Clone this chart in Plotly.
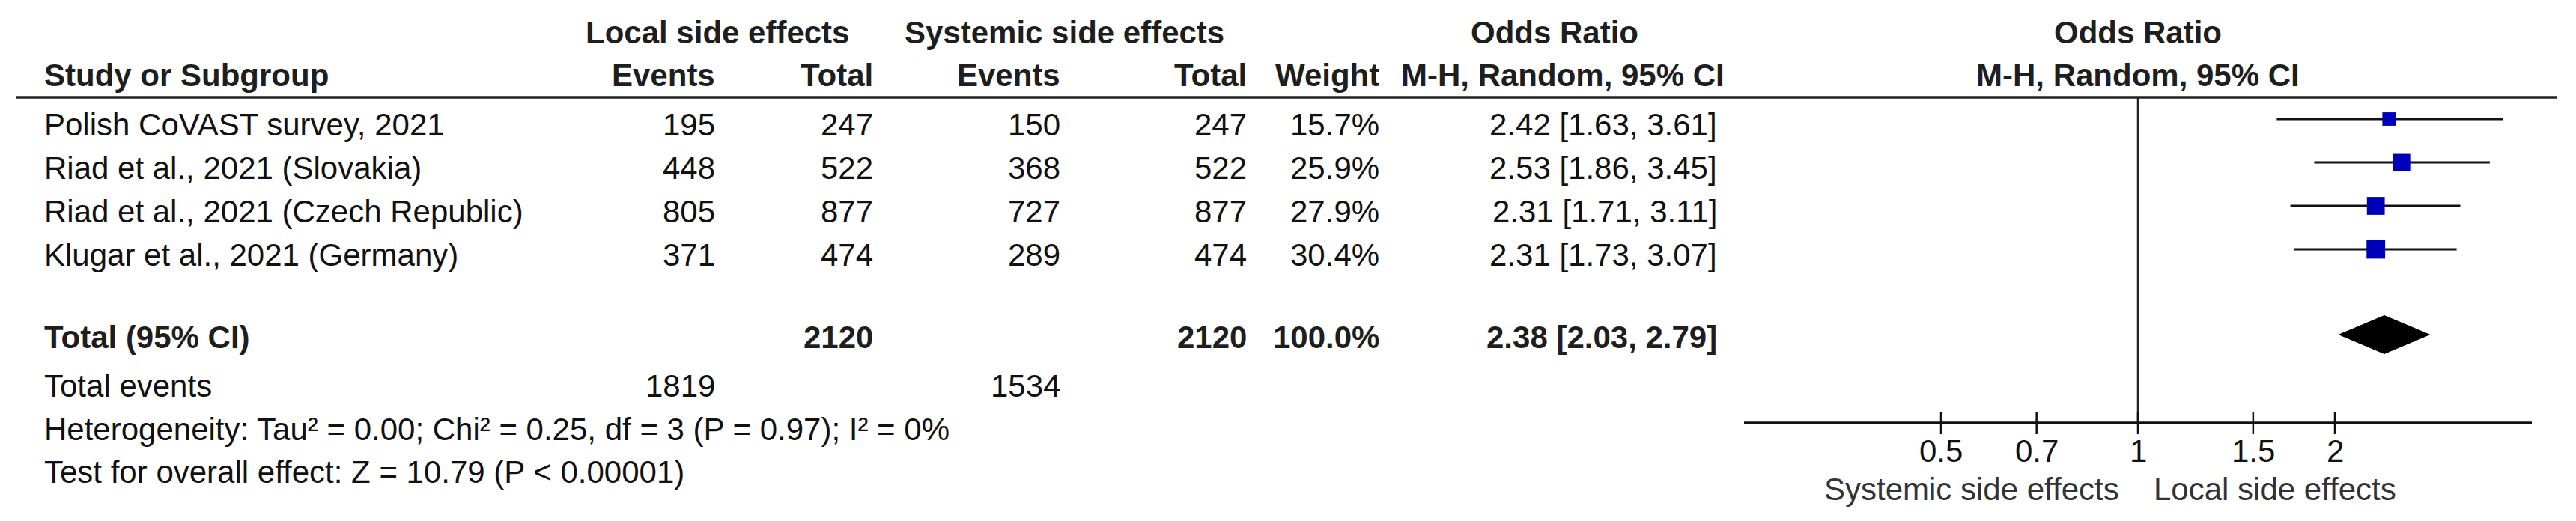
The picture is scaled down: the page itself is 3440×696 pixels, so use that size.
import math
import plotly.graph_objects as go

# ---------------- data ----------------
studies = [
    "Polish CoVAST survey, 2021",
    "Riad et al., 2021 (Slovakia)",
    "Riad et al., 2021 (Czech Republic)",
    "Klugar et al., 2021 (Germany)",
]
local_events = [195, 448, 805, 371]
local_total = [247, 522, 877, 474]
sys_events = [150, 368, 727, 289]
sys_total = [247, 522, 877, 474]
weights = [15.7, 25.9, 27.9, 30.4]
or_est = [2.42, 2.53, 2.31, 2.31]
ci_low = [1.63, 1.86, 1.71, 1.73]
ci_high = [3.61, 3.45, 3.11, 3.07]

total_local_n = 2120
total_sys_n = 2120
total_weight = 100.0
total_local_events = 1819
total_sys_events = 1534
pooled_or = 2.38
pooled_low = 2.03
pooled_high = 2.79

heterogeneity = "Heterogeneity: Tau² = 0.00; Chi² = 0.25, df = 3 (P = 0.97); I² = 0%"
overall = "Test for overall effect: Z = 10.79 (P &lt; 0.00001)"

tick_vals = [0.5, 0.7, 1, 1.5, 2]
tick_text = ["0.5", "0.7", "1", "1.5", "2"]
axis_range = [0.25, 4]
label_left = "Systemic side effects"
label_right = "Local side effects"

# ---------------- layout constants (page pixels) ----------------
PAGE_W, PAGE_H = 3440, 696
BODY = 8                      # default body margin of the html page
FIG_W, FIG_H = PAGE_W - BODY, PAGE_H - BODY
FONT = "Arial, 'Liberation Sans', sans-serif"
FS = 42
HDR_COLOR = "#1e1e1e"
TXT_COLOR = "#111111"

COL_NAME = 58
COL_LE = 956
COL_LT = 1167
COL_SE = 1417
COL_ST = 1666
COL_W = 1843
COL_OR = 2294
LOCAL_HDR = 958
SYS_HDR = 1421
OR_HDR1 = 2076
OR_HDR2 = 2087

HDR1_Y = 43
HDR2_Y = 100
LINE_Y = 130
ROW0_Y = 166
ROW_STEP = 58
FOREST_OFF = -7
TOTAL_Y = 450
DIAMOND_Y = 447
DIAMOND_H = 51
TE_Y = 515
HET_Y = 573
TEST_Y = 630
AXIS_Y = 565
TICK_HALF = 15
TICKLAB_Y = 602
AXLAB_Y = 653
FOREST_X0, FOREST_X1 = 2329, 3381

fig = go.Figure()


def txt(x, y, s, anchor="left", bold=False, color=TXT_COLOR, xref="x", xshift=0):
    fig.add_annotation(
        x=x, y=y, xref=xref, yref="y",
        text=f"<b>{s}</b>" if bold else s,
        showarrow=False, xanchor=anchor, yanchor="middle", xshift=xshift,
        font=dict(family=FONT, size=FS, color=color),
        borderpad=0,
    )


# ---------------- headers ----------------
txt(LOCAL_HDR, HDR1_Y, "Local side effects", "center", True, HDR_COLOR)
txt(SYS_HDR, HDR1_Y, "Systemic side effects", "center", True, HDR_COLOR)
txt(OR_HDR1, HDR1_Y, "Odds Ratio", "center", True, HDR_COLOR)
txt(0, HDR1_Y, "Odds Ratio", "center", True, HDR_COLOR, xref="x2")

txt(COL_NAME, HDR2_Y, "Study or Subgroup", "left", True, HDR_COLOR)
txt(COL_LE, HDR2_Y, "Events", "right", True, HDR_COLOR)
txt(COL_LT, HDR2_Y, "Total", "right", True, HDR_COLOR)
txt(COL_SE, HDR2_Y, "Events", "right", True, HDR_COLOR)
txt(COL_ST, HDR2_Y, "Total", "right", True, HDR_COLOR)
txt(COL_W, HDR2_Y, "Weight", "right", True, HDR_COLOR)
txt(OR_HDR2, HDR2_Y, "M-H, Random, 95% CI", "center", True, HDR_COLOR)
txt(0, HDR2_Y, "M-H, Random, 95% CI", "center", True, HDR_COLOR, xref="x2")

fig.add_shape(type="line", xref="x", yref="y", x0=21, x1=3415, y0=LINE_Y, y1=LINE_Y,
              line=dict(color="#222", width=3.5))

# ---------------- study rows ----------------
row_y = [ROW0_Y + i * ROW_STEP for i in range(len(studies))]
for i, s in enumerate(studies):
    y = row_y[i]
    txt(COL_NAME, y, s, "left")
    txt(COL_LE, y, str(local_events[i]), "right")
    txt(COL_LT, y, str(local_total[i]), "right")
    txt(COL_SE, y, str(sys_events[i]), "right")
    txt(COL_ST, y, str(sys_total[i]), "right")
    txt(COL_W, y, f"{weights[i]:.1f}%", "right")
    txt(COL_OR, y, f"{or_est[i]:.2f} [{ci_low[i]:.2f}, {ci_high[i]:.2f}]", "right")

# totals
txt(COL_NAME, TOTAL_Y, "Total (95% CI)", "left", True, HDR_COLOR)
txt(COL_LT, TOTAL_Y, str(total_local_n), "right", True, HDR_COLOR)
txt(COL_ST, TOTAL_Y, str(total_sys_n), "right", True, HDR_COLOR)
txt(COL_W, TOTAL_Y, f"{total_weight:.1f}%", "right", True, HDR_COLOR)
txt(COL_OR, TOTAL_Y, f"{pooled_or:.2f} [{pooled_low:.2f}, {pooled_high:.2f}]", "right", True, HDR_COLOR)

txt(COL_NAME, TE_Y, "Total events", "left")
txt(COL_LE, TE_Y, str(total_local_events), "right")
txt(COL_SE, TE_Y, str(total_sys_events), "right")
txt(COL_NAME, HET_Y, heterogeneity, "left")
txt(COL_NAME, TEST_Y, overall, "left")

# ---------------- forest plot ----------------
# null line
fig.add_trace(go.Scatter(x=[1, 1], y=[LINE_Y, AXIS_Y], xaxis="x2", yaxis="y", mode="lines",
                         line=dict(color="#222", width=2.5), hoverinfo="skip", showlegend=False))
# axis line
fig.add_trace(go.Scatter(x=axis_range, y=[AXIS_Y, AXIS_Y], xaxis="x2", yaxis="y", mode="lines",
                         line=dict(color="#111", width=3.5), hoverinfo="skip", showlegend=False,
                         cliponaxis=False))
# ticks
tx, ty = [], []
for t in tick_vals:
    tx += [t, t, None]
    ty += [AXIS_Y - TICK_HALF, AXIS_Y + TICK_HALF, None]
fig.add_trace(go.Scatter(x=tx, y=ty, xaxis="x2", yaxis="y", mode="lines",
                         line=dict(color="#111", width=2.5), hoverinfo="skip", showlegend=False))
for t, lab in zip(tick_vals, tick_text):
    txt(math.log10(t), TICKLAB_Y, lab, "center", xref="x2")

txt(0, AXLAB_Y, label_left, "right", color="#333333", xref="x2", xshift=-24)
txt(0, AXLAB_Y, label_right, "left", color="#333333", xref="x2", xshift=20)

# CI lines
forest_y = [y + FOREST_OFF for y in row_y]
cx, cy = [], []
for lo, hi, y in zip(ci_low, ci_high, forest_y):
    cx += [lo, hi, None]
    cy += [y, y, None]
fig.add_trace(go.Scatter(x=cx, y=cy, xaxis="x2", yaxis="y", mode="lines",
                         line=dict(color="#111", width=3), hoverinfo="skip", showlegend=False))
# boxes
fig.add_trace(go.Scatter(
    x=or_est, y=forest_y, xaxis="x2", yaxis="y", mode="markers",
    marker=dict(symbol="square", size=[4.5 * math.sqrt(w) for w in weights],
                color="#0000b8", opacity=1, line=dict(width=0)),
    hoverinfo="skip", showlegend=False))
# pooled diamond
fig.add_trace(go.Scatter(
    x=[pooled_low, pooled_or, pooled_high, pooled_or, pooled_low],
    y=[DIAMOND_Y, DIAMOND_Y - DIAMOND_H / 2, DIAMOND_Y, DIAMOND_Y + DIAMOND_H / 2, DIAMOND_Y],
    xaxis="x2", yaxis="y", mode="lines", fill="toself", fillcolor="black",
    line=dict(color="black", width=1), hoverinfo="skip", showlegend=False))

fig.update_layout(
    width=FIG_W, height=FIG_H,
    margin=dict(l=0, r=0, t=0, b=0),
    paper_bgcolor="white", plot_bgcolor="rgba(0,0,0,0)",
    showlegend=False,
    xaxis=dict(range=[BODY, PAGE_W], domain=[0, 1], visible=False, fixedrange=True),
    yaxis=dict(range=[PAGE_H, BODY], domain=[0, 1], visible=False, fixedrange=True),
    xaxis2=dict(type="log", range=[math.log10(axis_range[0]), math.log10(axis_range[1])],
                domain=[(FOREST_X0 - BODY) / FIG_W, (FOREST_X1 - BODY) / FIG_W],
                anchor="y", visible=False, fixedrange=True),
)

fig.write_html("out.html")
